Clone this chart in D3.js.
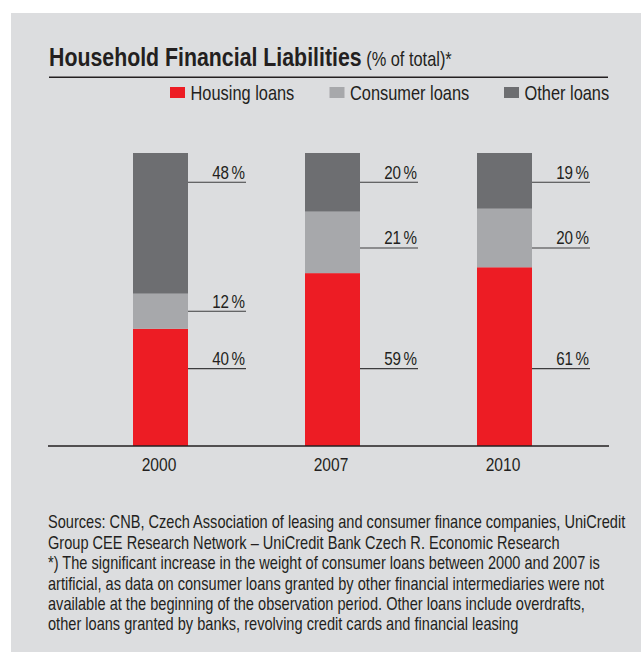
<!DOCTYPE html>
<html>
<head>
<meta charset="utf-8">
<script src="https://cdn.jsdelivr.net/npm/d3@7/dist/d3.min.js"></script>
<style>
  html, body { margin: 0; padding: 0; background: #ffffff; }
  svg { display: block; }
  text { font-family: 'Liberation Sans', Arial, sans-serif; fill: #231f20; }
</style>
</head>
<body>
<script>
// ---- data ----
const years = ["2000", "2007", "2010"];
const seriesNames = ["Housing loans", "Consumer loans", "Other loans"];
const housing = [40, 59, 61];
const consumer = [12, 21, 20];
const other = [48, 20, 19];
const titleText = "Household Financial Liabilities";
const subtitleText = "(% of total)*";
const footnoteLines = [
  "Sources: CNB, Czech Association of leasing and consumer finance companies, UniCredit",
  "Group CEE Research Network \u2013 UniCredit Bank Czech R. Economic Research",
  "*) The significant increase in the weight of consumer loans between 2000 and 2007 is",
  "artificial, as data on consumer loans granted by other financial intermediaries were not",
  "available at the beginning of the observation period. Other loans include overdrafts,",
  "other loans granted by banks, revolving credit cards and financial leasing"
];

// ---- layout / style ----
const W = 641, H = 652;
const SX = 0.82; // horizontal condensing of the typeface
const colors = { "Housing loans": "#ed1c24", "Consumer loans": "#a7a8ab", "Other loans": "#6d6e71" };
const labelRows = { "Housing loans": 26.4, "Consumer loans": 67.6, "Other loans": 90 };

const svg = d3.select("body").append("svg").attr("width", W).attr("height", H);

function narrow(parent, x, y) {
  return parent.append("g").attr("transform", `translate(${x},${y}) scale(${SX},1)`);
}

// panel
svg.append("rect").attr("x", 11).attr("y", 13).attr("width", W - 11).attr("height", H - 13).attr("fill", "#dcdddf");

// title
const title = narrow(svg, 49, 66).append("text").attr("x", 0).attr("y", 0);
title.append("tspan").text(titleText).attr("font-size", 26).attr("font-weight", "bold");
title.append("tspan").text(" " + subtitleText).attr("font-size", 20);

svg.append("line").attr("x1", 49).attr("x2", 608).attr("y1", 77.3).attr("y2", 77.3)
  .attr("stroke", "#231f20").attr("stroke-width", 1.5);

// legend
const legendX = [170, 329.5, 504];
seriesNames.forEach((s, i) => {
  svg.append("rect").attr("x", legendX[i]).attr("y", 87).attr("width", 15).attr("height", 11).attr("fill", colors[s]);
  narrow(svg, legendX[i] + 20.5, 100).append("text").attr("font-size", 20).text(s);
});

// scales
const x = d3.scalePoint().domain(years).range([160.5, 504.5]);
const y = d3.scaleLinear().domain([0, 100]).range([446, 153]);
const barW = 55;

// stack
const rows = years.map((yr, i) => ({ year: yr, "Housing loans": housing[i], "Consumer loans": consumer[i], "Other loans": other[i] }));
const stacked = d3.stack().keys(seriesNames)(rows);

const bars = svg.append("g");
stacked.forEach(layer => {
  bars.selectAll(null).data(layer).enter().append("rect")
    .attr("x", d => x(d.data.year) - barW / 2)
    .attr("y", d => y(d[1]))
    .attr("width", barW)
    .attr("height", d => y(d[0]) - y(d[1]))
    .attr("fill", colors[layer.key]);
});

// value labels with leader lines
const labels = svg.append("g");
stacked.forEach(layer => {
  layer.forEach(d => {
    const key = layer.key;
    let v = labelRows[key];
    if (!(v > d[0] && v < d[1])) v = (d[0] + d[1]) / 2;
    const ly = y(v);
    const x0 = x(d.data.year) + barW / 2;
    const x1 = x0 + 58;
    labels.append("line").attr("x1", x0).attr("x2", x1).attr("y1", ly).attr("y2", ly)
      .attr("stroke", "#3c3c3e").attr("stroke-width", 1.1);
    const t = narrow(labels, x1 - 1, ly - 3.5).append("text")
      .attr("text-anchor", "end").attr("font-size", 18.5);
    t.append("tspan").text(d.data[key]);
    t.append("tspan").attr("dx", 3).text("%");
  });
});

// axis
svg.append("line").attr("x1", 48).attr("x2", 609).attr("y1", 446).attr("y2", 446)
  .attr("stroke", "#231f20").attr("stroke-width", 1.5);
const axis = svg.append("g").attr("transform", "translate(-2,446)")
  .call(d3.axisBottom(x).tickSize(0).tickPadding(0));
axis.select(".domain").remove();
axis.selectAll("text").attr("font-size", 19).attr("dy", 0).attr("y", 25)
  .attr("transform", `scale(${SX},1)`)
  .style("font-family", "'Liberation Sans', Arial, sans-serif").attr("fill", "#231f20");

// footnote
const foot = narrow(svg, 48, 0).append("text").attr("font-size", 17.8);
footnoteLines.forEach((l, i) => {
  foot.append("tspan").attr("x", 0).attr("y", 528.5 + i * 20.4).text(l);
});
</script>
</body>
</html>
